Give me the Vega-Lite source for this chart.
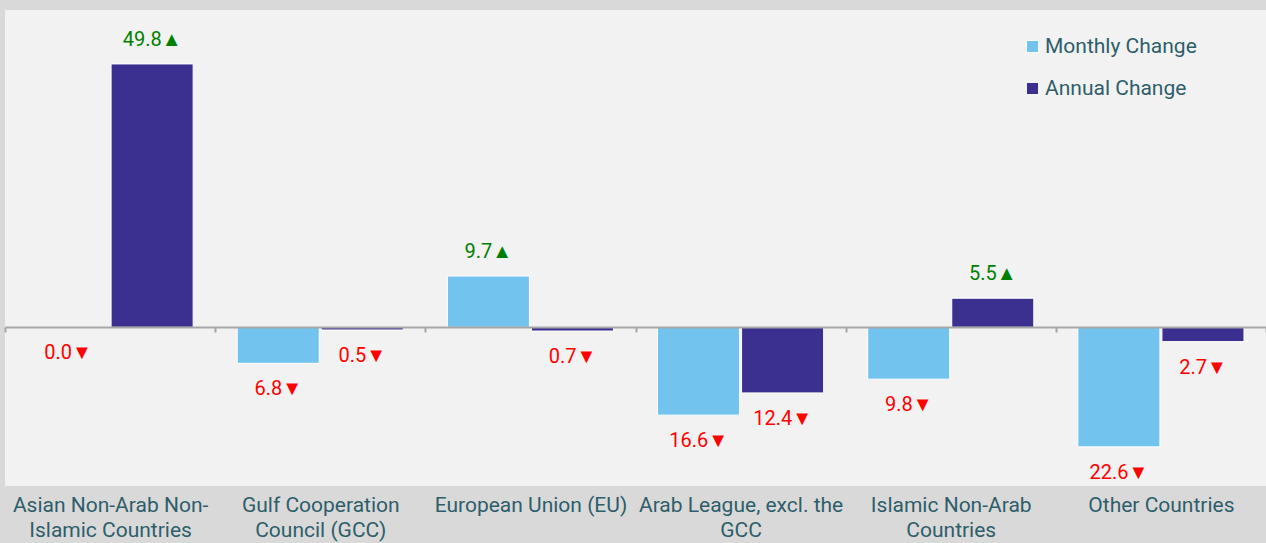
{
  "$schema": "https://vega.github.io/schema/vega-lite/v6.json",
  "width": 1261,
  "height": 476,
  "autosize": {"type": "none"},
  "padding": {"left": 5, "top": 10, "right": 0, "bottom": 57},
  "background": "#d9d9d9",
  "config": {
    "view": {"fill": "#f2f2f2", "stroke": null},
    "font": "Roboto"
  },
  "data": {
    "values": [
      {"region": "Asian Non-Arab Non-|Islamic Countries", "series": "Monthly Change", "value": -0.03},
      {"region": "Asian Non-Arab Non-|Islamic Countries", "series": "Annual Change", "value": 49.8},
      {"region": "Gulf Cooperation|Council (GCC)", "series": "Monthly Change", "value": -6.8},
      {"region": "Gulf Cooperation|Council (GCC)", "series": "Annual Change", "value": -0.5},
      {"region": "European Union (EU)", "series": "Monthly Change", "value": 9.7},
      {"region": "European Union (EU)", "series": "Annual Change", "value": -0.7},
      {"region": "Arab League, excl. the|GCC", "series": "Monthly Change", "value": -16.6},
      {"region": "Arab League, excl. the|GCC", "series": "Annual Change", "value": -12.4},
      {"region": "Islamic Non-Arab|Countries", "series": "Monthly Change", "value": -9.8},
      {"region": "Islamic Non-Arab|Countries", "series": "Annual Change", "value": 5.5},
      {"region": "Other Countries", "series": "Monthly Change", "value": -22.6},
      {"region": "Other Countries", "series": "Annual Change", "value": -2.7}
    ]
  },
  "transform": [
    {"calculate": "format(abs(datum.value), '.1f') + (datum.value >= 0 ? '▲' : '▼')", "as": "label"}
  ],
  "encoding": {
    "x": {
      "field": "region",
      "type": "nominal",
      "sort": null,
      "scale": {"paddingInner": 0, "paddingOuter": 0},
      "axis": {
        "title": null,
        "labelAngle": 0,
        "labelExpr": "split(datum.label, '|')",
        "labelFontSize": 21,
        "labelLimit": 0,
        "labelColor": "#2e5e6a",
        "labelLineHeight": 25,
        "labelPadding": 162,
        "labelBaseline": "top",
        "offset": -159,
        "zindex": 1,
        "domainColor": "#a6a6a6",
        "domainWidth": 2,
        "tickColor": "#a6a6a6",
        "tickWidth": 2,
        "tickSize": 5,
        "tickBand": "extent",
        "grid": false
      }
    },
    "xOffset": {
      "field": "series",
      "type": "nominal",
      "sort": ["Monthly Change", "Annual Change"],
      "scale": {"paddingInner": 0.024, "paddingOuter": 0.262}
    },
    "y": {
      "field": "value",
      "type": "quantitative",
      "scale": {"domain": [-30, 60], "nice": false, "zero": true},
      "axis": null
    }
  },
  "layer": [
    {
      "mark": {"type": "bar", "stroke": "white", "strokeWidth": 1},
      "encoding": {
        "color": {
          "field": "series",
          "type": "nominal",
          "sort": ["Monthly Change", "Annual Change"],
          "scale": {"domain": ["Monthly Change", "Annual Change"], "range": ["#72c4ee", "#3b2f8f"]},
          "legend": {
            "title": null,
            "orient": "none",
            "legendX": 1017,
            "legendY": 26,
            "symbolType": "square",
            "symbolSize": 150,
            "symbolStrokeColor": "white",
            "symbolStrokeWidth": 1,
            "labelFontSize": 21,
            "labelColor": "#2e5e6a",
            "rowPadding": 20,
            "labelOffset": 2
          }
        }
      }
    },
    {
      "transform": [{"filter": "datum.value >= 0"}],
      "mark": {"type": "text", "dy": -24, "baseline": "middle", "fontSize": 20, "color": "#008000"},
      "encoding": {"text": {"field": "label"}}
    },
    {
      "transform": [{"filter": "datum.value < 0"}],
      "mark": {"type": "text", "dy": 26, "baseline": "middle", "fontSize": 20, "color": "#ff0000"},
      "encoding": {"text": {"field": "label"}}
    }
  ]
}
